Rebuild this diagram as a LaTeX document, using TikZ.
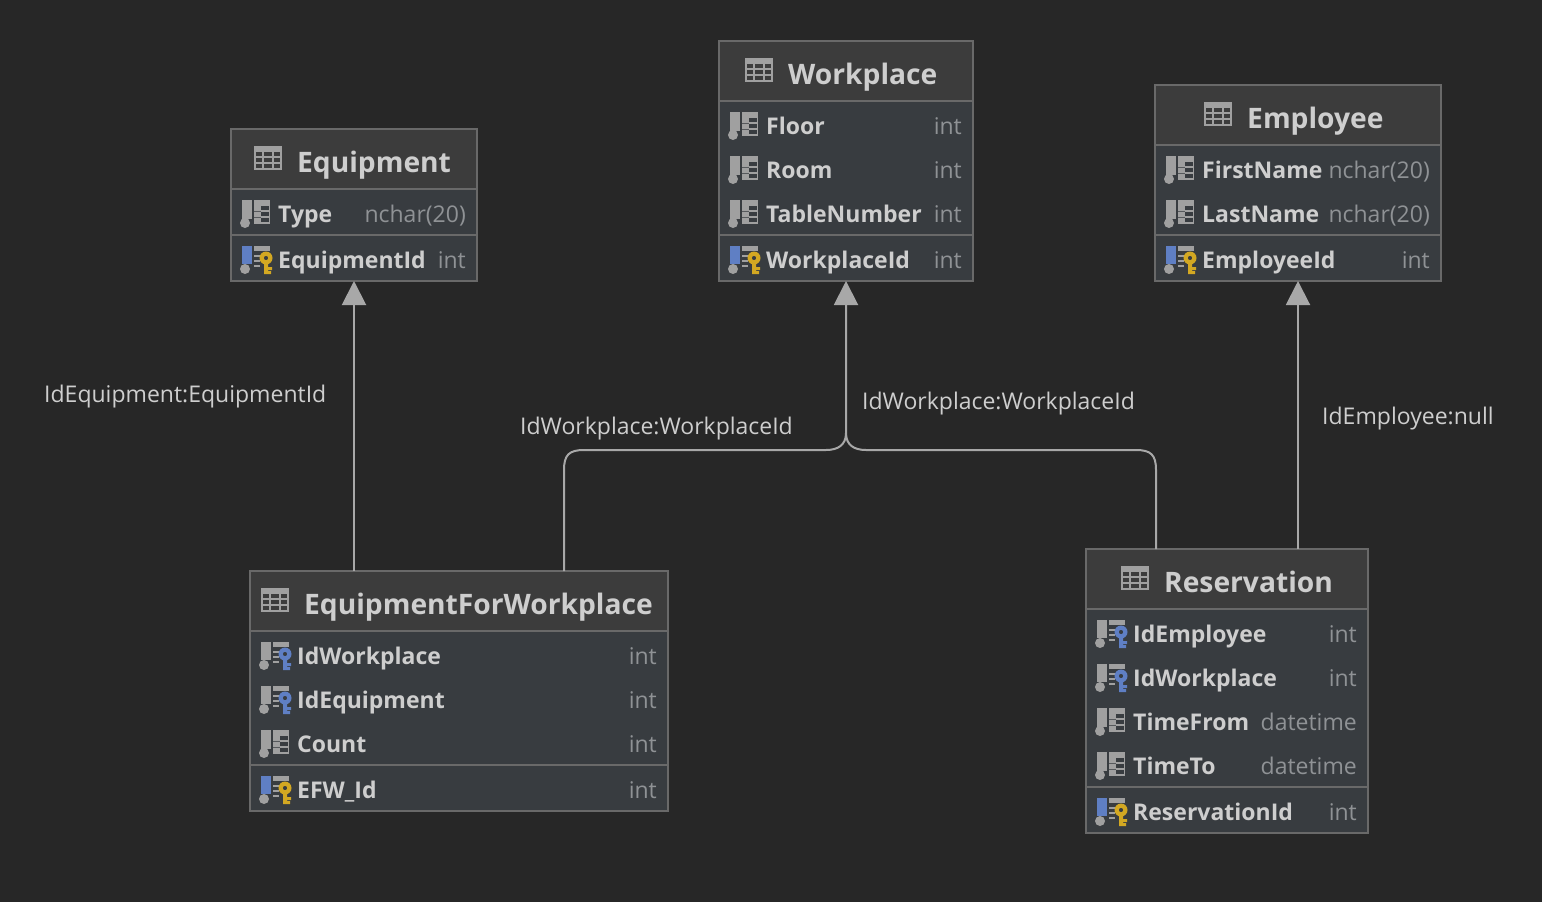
\documentclass[tikz,border=0pt]{standalone}
\usepackage{fontspec}
\setmainfont{Open Sans}
\usetikzlibrary{arrows.meta}

\definecolor{pagebg}{HTML}{272727}
\definecolor{headbg}{HTML}{3C3C3C}
\definecolor{rowbg}{HTML}{383C40}
\definecolor{rulecol}{HTML}{696969}
\definecolor{namecol}{HTML}{CECECE}
\definecolor{typecol}{HTML}{8F9295}
\definecolor{linecol}{HTML}{A8A8A8}
\definecolor{iconcol}{HTML}{A0A0A0}
\definecolor{pkblue}{HTML}{5F7FC4}
\definecolor{keygold}{HTML}{D3A822}

\tikzset{
  dbbox/.style={draw=rulecol,line width=1.5pt,fill=rowbg,inner sep=0,outer sep=0},
  dbrule/.style={draw=rulecol,line width=2pt},
  dbtitle/.style={anchor=base west,inner sep=0,text=namecol,font=\fontsize{28.2}{28.2}\selectfont\bfseries},
  dbname/.style={anchor=base west,inner sep=0,text=namecol,font=\fontsize{23}{23}\selectfont\bfseries},
  dbtype/.style={anchor=base east,inner sep=0,text=typecol,font=\fontsize{23}{23}\selectfont},
  fklabel/.style={anchor=base west,inner sep=0,text=namecol,font=\fontsize{23}{23}\selectfont},
  fkline/.style={draw=linecol,line width=2pt},
  fkarrow/.style={fkline,-{Triangle[length=24pt,width=24pt,fill=linecol]}},
  pics/gridicon/.style={code={
    \fill[iconcol] (0,0) rectangle (28,24);
    \foreach \gy in {6,12,18} {
      \fill[headbg] (2,\gy) rectangle (8,\gy+4);
      \fill[headbg] (10,\gy) rectangle (18,\gy+4);
      \fill[headbg] (20,\gy) rectangle (26,\gy+4);
    }
  }},
  pics/colicon/.style={code={
    \fill[iconcol] (2,-14) rectangle (12,5);
    \fill[iconcol] (5,9) circle (5);
    \fill[iconcol] (14,-14) rectangle (30,10);
    \foreach \gy in {-8.5,-2.5,3.5} \fill[rowbg] (21,\gy) rectangle (29,\gy+4.5);
    \foreach \gy in {-3.5,2.5} \fill[rowbg,opacity=.7] (14,\gy) rectangle (21,\gy+1.5);
  }},
  pics/keyicon/.style 2 args={code={
    \fill[#1] (2,-14) rectangle (12,4);
    \fill[iconcol] (5,9) circle (5);
    \fill[iconcol] (14,-14) rectangle (30,-9);
    \foreach \gy in {-5,0,5} \fill[iconcol] (14,\gy) rectangle (20,\gy+1.6);
    \fill[#2,even odd rule] (26,-2) circle (6.5) (26,-2) circle (2.2);
    \fill[#2] (24,3) rectangle (28,14) (28,7) rectangle (32,10) (28,11) rectangle (31,14);
  }}
}

% box, header band and rules of one table: name, title, centre x, top, width, height, rule 1, rule 2, title x
\newcommand{\dbtable}[9]{
  \node[dbbox,minimum width=#5pt,minimum height=#6pt,anchor=north] (#1) at (#3,#4) {};
  \fill[headbg] (#1.north west) rectangle (#1.east |- 0,#7);
  \draw[rulecol,line width=1.5pt] (#1.north west) rectangle (#1.south east);
  \draw[dbrule] (#1.west |- 0,#7) -- (#1.east |- 0,#7);
  \draw[dbrule] (#1.west |- 0,#8) -- (#1.east |- 0,#8);
  \pic at ([shift={(#9-43,17)}]#1.north west) {gridicon};
  \node[dbtitle] (#1Title) at ([shift={(#9,43)}]#1.north west) {#2};
}
% one row: table, row name, icon, y, text, type
\newcommand{\dbrow}[6]{
  \pic[xshift=9pt] at (#1.west |- 0,#4) {#3};
  \node[dbname] (#1#2) at ([xshift=47pt]#1.west |- 0,#4+8) {#5};
  \node[dbtype] (#1#2Type) at ([xshift=-11pt]#1.east |- 0,#4+8) {#6};
}

\begin{document}
\begin{tikzpicture}[x=1pt,y=-1pt]
  \useasboundingbox (0,0) rectangle (1542,902);
  \fill[pagebg] (0,0) rectangle (1542,902);

  \dbtable{equipment}{Equipment}{354}{129}{246}{152}{189}{235}{66}
  \dbrow{equipment}{Kind}{colicon}{214}{Type}{nchar(20)}
  \dbrow{equipment}{Key}{keyicon={pkblue}{keygold}}{260}{EquipmentId}{int}

  \dbtable{workplace}{Workplace}{846}{41}{254}{240}{101}{235}{69}
  \dbrow{workplace}{Floor}{colicon}{126}{Floor}{int}
  \dbrow{workplace}{Room}{colicon}{170}{Room}{int}
  \dbrow{workplace}{Table}{colicon}{214}{TableNumber}{int}
  \dbrow{workplace}{Key}{keyicon={pkblue}{keygold}}{260}{WorkplaceId}{int}

  \dbtable{employee}{Employee}{1298}{85}{286}{196}{145}{235}{92}
  \dbrow{employee}{First}{colicon}{170}{FirstName}{nchar(20)}
  \dbrow{employee}{Last}{colicon}{214}{LastName}{nchar(20)}
  \dbrow{employee}{Key}{keyicon={pkblue}{keygold}}{260}{EmployeeId}{int}

  \dbtable{efw}{EquipmentForWorkplace}{459}{571}{418}{240}{631}{765}{54}
  \dbrow{efw}{Workplace}{keyicon={iconcol}{pkblue}}{656}{IdWorkplace}{int}
  \dbrow{efw}{Equipment}{keyicon={iconcol}{pkblue}}{700}{IdEquipment}{int}
  \dbrow{efw}{Count}{colicon}{744}{Count}{int}
  \dbrow{efw}{Key}{keyicon={pkblue}{keygold}}{790}{EFW\_Id}{int}

  \dbtable{reservation}{Reservation}{1227}{549}{282}{284}{609}{787}{78}
  \dbrow{reservation}{Employee}{keyicon={iconcol}{pkblue}}{634}{IdEmployee}{int}
  \dbrow{reservation}{Workplace}{keyicon={iconcol}{pkblue}}{678}{IdWorkplace}{int}
  \dbrow{reservation}{From}{colicon}{722}{TimeFrom}{datetime}
  \dbrow{reservation}{To}{colicon}{766}{TimeTo}{datetime}
  \dbrow{reservation}{Key}{keyicon={pkblue}{keygold}}{812}{ReservationId}{int}

  \draw[fkarrow] (efw.north -| equipment.south) -- (equipment.south);
  \draw[fkarrow] (reservation.north -| employee.south) -- (employee.south);
  \draw[fkarrow] ([xshift=105pt]efw.north) -- (564,470) .. controls (564,455) and (569,450) .. (584,450)
    -- (826,450) .. controls (838,450) and (846,445) .. (846,433) -- (workplace.south);
  \draw[fkline] ([xshift=-71pt]reservation.north) -- (1156,470) .. controls (1156,455) and (1151,450) .. (1136,450)
    -- (866,450) .. controls (854,450) and (846,445) .. (846,433);

  \node[fklabel] (equipmentLabel) at (44,402) {IdEquipment:EquipmentId};
  \node[fklabel] (efwLabel) at (520,434) {IdWorkplace:WorkplaceId};
  \node[fklabel] (reservationLabel) at (862,409) {IdWorkplace:WorkplaceId};
  \node[fklabel] (employeeLabel) at (1322,424) {IdEmployee:null};
\end{tikzpicture}
\end{document}
